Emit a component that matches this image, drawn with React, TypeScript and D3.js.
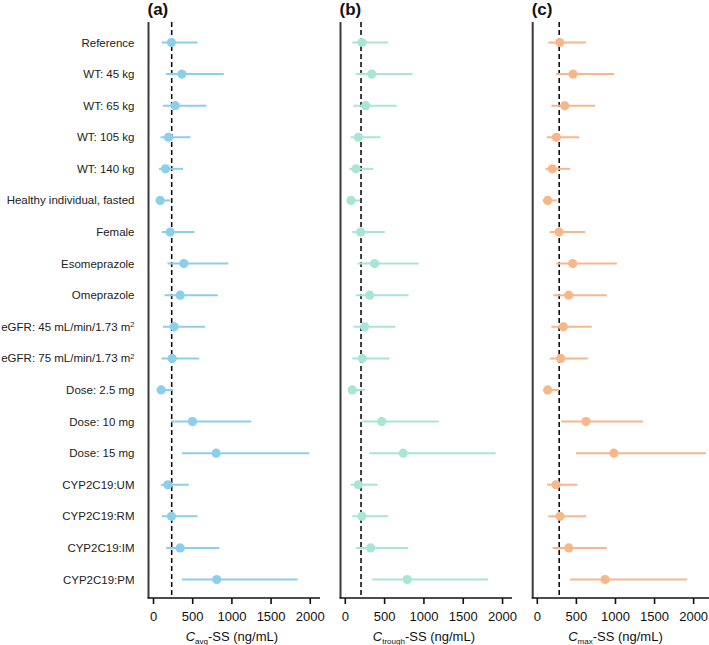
import * as d3 from "d3";

const categories = [
  "Reference",
  "WT: 45 kg",
  "WT: 65 kg",
  "WT: 105 kg",
  "WT: 140 kg",
  "Healthy individual, fasted",
  "Female",
  "Esomeprazole",
  "Omeprazole",
  "eGFR: 45 mL/min/1.73 m²",
  "eGFR: 75 mL/min/1.73 m²",
  "Dose: 2.5 mg",
  "Dose: 10 mg",
  "Dose: 15 mg",
  "CYP2C19:UM",
  "CYP2C19:RM",
  "CYP2C19:IM",
  "CYP2C19:PM",
];

// (a) Cavg-SS
const cavgMid = [229, 362, 276, 191, 153, 85, 213, 387, 340, 264, 238, 98, 497, 799, 183, 229, 340, 807];
const cavgLo = [107, 158, 120, 89, 69, 30, 107, 178, 140, 120, 102, 40, 222, 362, 94, 107, 162, 362];
const cavgHi = [561, 897, 675, 471, 378, 213, 522, 955, 820, 659, 582, 247, 1245, 1987, 451, 561, 841, 1839];

// (b) Ctrough-SS
const ctroughMid = [212, 335, 259, 165, 136, 72, 195, 373, 310, 246, 216, 89, 462, 737, 165, 212, 322, 788];
const ctroughLo = [89, 136, 102, 68, 51, 30, 89, 157, 136, 102, 89, 40, 208, 305, 68, 89, 136, 343];
const ctroughHi = [546, 856, 653, 449, 356, 187, 504, 932, 805, 640, 564, 250, 1190, 1911, 411, 546, 800, 1817];

// (c) Cmax-SS
const cmaxMid = [287, 458, 351, 244, 192, 133, 278, 453, 402, 333, 300, 133, 624, 979, 240, 291, 402, 868];
const cmaxLo = [141, 240, 180, 124, 103, 69, 159, 240, 205, 180, 163, 77, 304, 496, 124, 141, 197, 419];
const cmaxHi = [624, 983, 740, 535, 419, 248, 612, 1018, 889, 697, 646, 278, 1351, 2159, 513, 624, 889, 1915];

const refLines = [232, 200, 280];
const xTicks = [0, 500, 1000, 1500, 2000];

const panels = [
  { tag: "(a)", sub: "avg", mid: cavgMid, lo: cavgLo, hi: cavgHi, ref: refLines[0], color: "#8ccfea", left: 148.5, right: 320, dom: [-64, 2124] },
  { tag: "(b)", sub: "trough", mid: ctroughMid, lo: ctroughLo, hi: ctroughHi, ref: refLines[1], color: "#a9e5d5", left: 340.5, right: 512, dom: [-61, 2120] },
  { tag: "(c)", sub: "max", mid: cmaxMid, lo: cmaxLo, hi: cmaxHi, ref: refLines[2], color: "#f8b78b", left: 532.7, right: 712, dom: [-59, 2235] },
];

const W = 709;
const H = 645;
const plotTop = 22;
const plotBottom = 598;
const font = "'Liberation Sans', Arial, Helvetica, sans-serif";

export default function App() {
  const y = d3.scalePoint<string>().domain(categories).range([42.5, 579.5]);

  return (
    <svg
      width={W}
      height={H}
      style={{ position: "absolute", left: 0, top: 0, background: "#fff" }}
      fontFamily={font}
    >
      {/* category labels */}
      {categories.map((c) => {
        const m = c.match(/^(.*m)²$/);
        return (
          <text
            key={c}
            x={134.5}
            y={y(c)!}
            dy="0.35em"
            textAnchor="end"
            fontSize={11.5}
            fill="#222"
          >
            {m ? (
              <>
                {m[1]}
                <tspan dy="-0.45em" fontSize={7.5}>2</tspan>
              </>
            ) : (
              c
            )}
          </text>
        );
      })}

      {panels.map((p) => {
        const x = d3.scaleLinear().domain(p.dom).range([p.left, p.right]);
        return (
          <g key={p.tag}>
            <text x={p.left - 1} y={15} fontSize={17} fontWeight="bold" fill="#111">
              {p.tag}
            </text>
            {/* reference dashed line */}
            <line
              x1={x(p.ref)}
              x2={x(p.ref)}
              y1={plotTop}
              y2={plotBottom}
              stroke="#111"
              strokeWidth={1.6}
              strokeDasharray="5,3"
            />
            {categories.map((c, i) => (
              <g key={c}>
                <line
                  x1={x(p.lo[i])}
                  x2={x(p.hi[i])}
                  y1={y(c)!}
                  y2={y(c)!}
                  stroke={p.color}
                  strokeWidth={2}
                />
                <circle cx={x(p.mid[i])} cy={y(c)!} r={4.6} fill={p.color} />
              </g>
            ))}
            {/* left axis line */}
            <line x1={p.left} x2={p.left} y1={plotTop} y2={plotBottom} stroke="#3a3a3a" strokeWidth={2} />
            {/* bottom axis */}
            <line x1={p.left - 1} x2={p.right} y1={plotBottom} y2={plotBottom} stroke="#111" strokeWidth={1.6} />
            {xTicks.map((t) => (
              <g key={t} transform={`translate(${x(t)},${plotBottom})`}>
                <line y1={0} y2={6} stroke="#111" strokeWidth={1.6} />
                <text y={23} textAnchor="middle" fontSize={13} fill="#111">
                  {t}
                </text>
              </g>
            ))}
            <text
              x={(x(0) + x(2000)) / 2}
              y={641}
              textAnchor="middle"
              fontSize={13}
              fill="#111"
            >
              <tspan fontStyle="italic">C</tspan>
              <tspan fontSize={8} dy={3}>{p.sub}</tspan>
              <tspan dy={-3}>-SS (ng/mL)</tspan>
            </text>
          </g>
        );
      })}
    </svg>
  );
}
